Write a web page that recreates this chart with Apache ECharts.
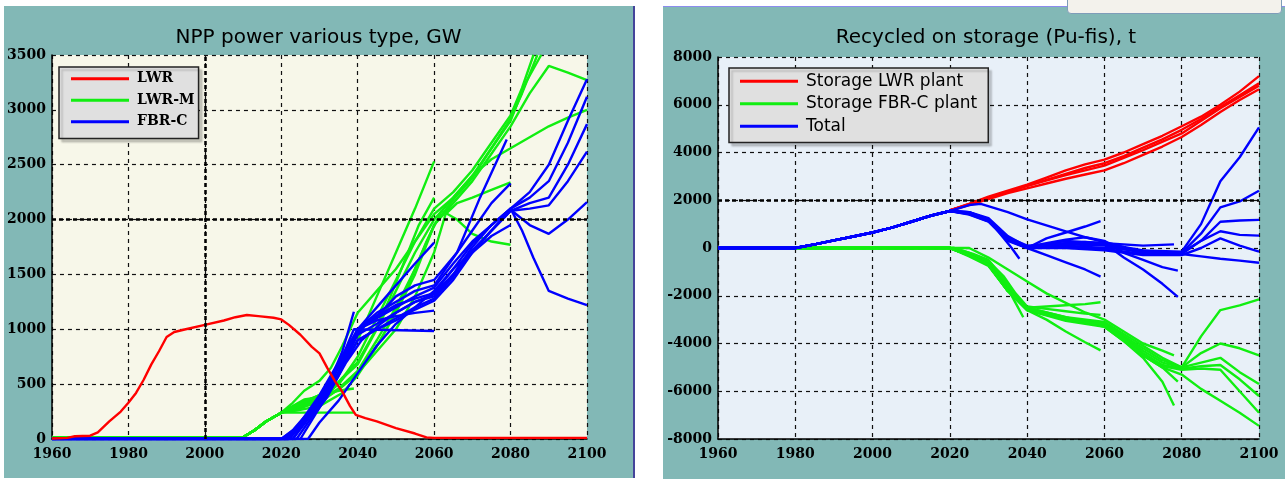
<!DOCTYPE html>
<html>
<head>
<meta charset="utf-8">
<script src="https://cdn.jsdelivr.net/npm/echarts@6.0.0/dist/echarts.min.js"></script>
<style>
  html, body { margin:0; padding:0; background:#ffffff; width:1285px; height:479px; overflow:hidden; position:relative; }
  #left { position:absolute; left:4px; top:6px; width:629px; height:472px; background:#82b8b6; }
  #right { position:absolute; left:663px; top:6px; width:622px; height:473px; background:#82b8b6; }
  #sep { position:absolute; left:633px; top:6px; width:2px; height:472px; background:#44449a; }
  #rtop { position:absolute; left:663px; top:6px; width:622px; height:1px; background:#8c8cee; }
  #btn { position:absolute; left:1067px; top:-6px; width:213px; height:18px; border:1px solid #7f9db9; border-radius:4px; background:#f3f2ec; }
</style>
</head>
<body>
<div id="left"></div>
<div id="sep"></div>
<div id="right"></div>
<div id="rtop"></div>
<div id="btn"></div>
<script>
// ---------------- DATA ----------------
const xTicks = [1960, 1980, 2000, 2020, 2040, 2060, 2080, 2100];
const leftYTicks = [0, 500, 1000, 1500, 2000, 2500, 3000, 3500];
const rightYTicks = [-8000, -6000, -4000, -2000, 0, 2000, 4000, 6000, 8000];

// Left chart: NPP power various type, GW
const lwr = [[1960,5],[1964,10],[1966,25],[1970,30],[1972,60],[1975,160],[1978,250],[1980,330],[1982,420],[1984,540],[1986,680],[1988,800],[1990,930],[1992,975],[1995,1000],[2000,1040],[2005,1080],[2008,1110],[2011,1130],[2014,1120],[2018,1105],[2020,1090],[2022,1040],[2025,950],[2028,840],[2030,780],[2032,650],[2034,530],[2036,430],[2038,300],[2039.5,220],[2042,190],[2045,160],[2050,100],[2055,50],[2058,15],[2060,10],[2100,10]];

const lwrmBase = [[1960,15],[2010,15],[2013,80],[2016,160],[2020,240]];
const lwrm1 = [[2023,330],[2026,440],[2030,530],[2033,650],[2036,850],[2040,1150],[2045,1350],[2050,1550],[2055,1800],[2060,2050],[2065,2200],[2070,2400],[2075,2550],[2080,2650],[2085,2750],[2090,2850],[2095,2930],[2100,3000]];
const lwrm2 = [[2023,300],[2026,360],[2030,380],[2033,430],[2036,560],[2040,700],[2044,950],[2048,1250],[2052,1600],[2056,1950],[2060,2200]];
const lwrm3 = [[2025,330],[2030,400],[2035,600],[2040,900],[2045,1300],[2050,1700],[2055,2100],[2060,2530]];
const lwrm4 = [[2025,300],[2030,360],[2035,500],[2040,750],[2045,1100],[2050,1450],[2055,1800],[2060,2100],[2065,2250],[2070,2450],[2075,2700],[2080,2950],[2083,3200],[2086,3500]];
const lwrm5 = [[2025,320],[2030,390],[2035,520],[2040,680],[2045,1000],[2050,1350],[2055,1700],[2060,2000],[2065,2200],[2070,2400],[2075,2650],[2080,2900],[2084,3250],[2088,3500]];
const lwrm6 = [[2025,280],[2030,350],[2035,450],[2040,600],[2045,850],[2050,1150],[2055,1500],[2060,1950],[2065,2150],[2070,2350],[2075,2600],[2080,2850],[2085,3150],[2090,3400],[2095,3340],[2100,3270]];
const lwrm7 = [[2025,300],[2030,340],[2035,460],[2040,620],[2045,900],[2050,1200],[2055,1550],[2060,1950],[2065,2180],[2070,2380],[2075,2650],[2080,2920],[2083,3150],[2087,3500]];
const lwrm8 = [[2024,260],[2030,300],[2036,420],[2040,580],[2046,900],[2052,1300],[2058,1800],[2062,2080],[2066,2000],[2070,1870],[2075,1800],[2080,1770]];
const lwrm9 = [[2025,290],[2030,330],[2036,480],[2040,600],[2045,800],[2050,1000],[2055,1300],[2060,1700],[2063,2050],[2066,2150],[2070,2200],[2075,2270],[2080,2340]];
const lwrm10 = [[2039,240]];
const lwrm11 = [[2025,300],[2030,380],[2035,500],[2039,680]];
const lwrm12 = [[2025,320],[2030,400],[2035,440],[2039,460]];

const fbrBase = [[1960,0]];
const fbr1 = [[2020,0],[2023,80],[2026,200],[2030,350],[2033,550],[2036,800],[2039,1160]];
const fbr2 = [[2020,0],[2024,100],[2028,250],[2032,450],[2036,750],[2039,1000],[2039.5,985],[2060,985]];
const fbr3 = [[2021,0],[2025,120],[2029,280],[2033,480],[2037,750],[2040,1000],[2045,1080],[2050,1120],[2055,1150],[2060,1170]];
const fbr4 = [[2021,0],[2025,150],[2030,330],[2035,600],[2040,1000],[2045,1100],[2050,1200],[2055,1300],[2060,1380],[2065,1600],[2070,1800],[2075,1950],[2080,2100],[2085,2250],[2090,2500],[2095,2900],[2100,3280]];
const fbr5 = [[2022,0],[2026,150],[2030,320],[2035,580],[2040,980],[2045,1120],[2050,1220],[2055,1280],[2060,1330],[2065,1550],[2070,1780],[2075,1950],[2080,2100],[2085,2200],[2090,2350],[2095,2700],[2100,3120]];
const fbr6 = [[2022,0],[2027,200],[2031,380],[2035,600],[2040,950],[2045,1050],[2050,1150],[2055,1250],[2060,1300],[2065,1500],[2070,1700],[2075,1900],[2080,2080],[2085,2150],[2090,2200],[2095,2500],[2100,2870]];
const fbr7 = [[2023,0],[2027,180],[2032,400],[2036,650],[2040,900],[2045,1000],[2050,1100],[2055,1200],[2060,1280],[2065,1480],[2070,1720],[2075,1900],[2080,2080],[2085,2100],[2090,2130],[2095,2350],[2100,2620]];
const fbr8 = [[2024,0],[2028,200],[2032,380],[2036,650],[2040,900],[2045,1000],[2050,1080],[2055,1180],[2060,1260],[2065,1450],[2070,1700],[2075,1900],[2080,2090],[2085,1950],[2090,1870],[2095,2000],[2100,2160]];
const fbr9 = [[2025,0],[2029,230],[2033,450],[2037,700],[2041,900],[2046,1050],[2050,1150],[2055,1250],[2060,1320],[2065,1500],[2070,1750],[2075,1950],[2080,2100],[2083,1900],[2086,1650],[2090,1350],[2095,1280],[2100,1220]];
const fbr10 = [[2027,0],[2030,150],[2035,350],[2040,600],[2045,850],[2050,1050],[2055,1200],[2060,1350],[2065,1550],[2070,1700],[2075,1850],[2080,1950]];
const fbr11 = [[2023,0],[2027,200],[2031,400],[2035,650],[2040,1000],[2045,1150],[2050,1250],[2055,1350],[2060,1400],[2065,1650],[2070,1900],[2075,2150],[2080,2330]];
const fbr12 = [[2022,0],[2026,180],[2030,380],[2034,600],[2038,850],[2042,1050],[2046,1150],[2050,1300],[2055,1400],[2060,1450],[2066,1700],[2072,2200],[2079,2730]];
const fbr13 = [[2022,0],[2026,200],[2030,400],[2035,700],[2040,1000],[2045,1200],[2050,1400],[2055,1600],[2060,1790]];

// Right chart: Recycled on storage (Pu-fis), t
const stLwr1 = [[2020,1580],[2025,1850],[2030,2150],[2035,2400],[2040,2650],[2045,2950],[2050,3250],[2055,3500],[2060,3700],[2065,4000],[2070,4350],[2075,4700],[2080,5100],[2085,5500],[2090,6000],[2095,6550],[2100,7200]];
const stLwr2 = [[2020,1580],[2025,1820],[2030,2100],[2035,2350],[2040,2600],[2045,2850],[2050,3100],[2055,3350],[2060,3550],[2065,3850],[2070,4200],[2075,4550],[2080,4950],[2085,5400],[2090,5900],[2095,6400],[2100,6900]];
const stLwr3 = [[2020,1580],[2025,1800],[2030,2050],[2035,2300],[2040,2500],[2045,2700],[2050,2900],[2055,3080],[2060,3250],[2065,3550],[2070,3900],[2075,4250],[2080,4650],[2085,5150],[2090,5700],[2095,6200],[2100,6650]];
const stLwr4 = [[2020,1580],[2030,2120],[2040,2600],[2050,3050],[2060,3450],[2070,4100],[2080,4800],[2090,5850],[2100,6800]];

const stFbrBase = [[1960,0],[2020,0]];
const stFbr1 = [[2025,-300],[2030,-650],[2033,-1200],[2035,-1700],[2037,-2300],[2039,-2900]];
const stFbr2 = [[2025,-250],[2030,-600],[2033,-1100],[2036,-1800],[2040,-2500],[2045,-2450],[2050,-2400],[2055,-2350],[2059,-2270]];
const stFbr3 = [[2021,0],[2025,-200],[2030,-550],[2034,-1200],[2037,-1900],[2040,-2450],[2045,-2550],[2050,-2650],[2055,-2750],[2059,-2800]];
const stFbr4 = [[2021,0],[2026,-250],[2030,-500],[2034,-1300],[2038,-2200],[2040,-2600],[2045,-3000],[2050,-3500],[2055,-3950],[2059,-4290]];
const stFbr5 = [[2025,0],[2030,-400],[2035,-900],[2040,-1400],[2045,-1900],[2050,-2300],[2055,-2700],[2060,-3000],[2065,-3500],[2070,-4000],[2075,-4300],[2078,-4500]];
const stFbr6 = [[2025,-300],[2030,-700],[2035,-1700],[2040,-2500],[2045,-2700],[2050,-2900],[2055,-3100],[2060,-3300],[2065,-3900],[2070,-4600],[2075,-5600],[2078,-6600]];
const stFbr7 = [[2025,-350],[2030,-750],[2035,-1800],[2040,-2550],[2045,-2750],[2050,-2950],[2055,-3050],[2060,-3200],[2065,-3700],[2070,-4200],[2075,-4700],[2080,-5000],[2085,-3700],[2090,-2600],[2095,-2400],[2100,-2150]];
const stFbr8 = [[2025,-300],[2030,-700],[2035,-1750],[2040,-2500],[2050,-2900],[2060,-3100],[2065,-3600],[2070,-4100],[2075,-4600],[2080,-5000],[2085,-4400],[2090,-4000],[2095,-4200],[2100,-4500]];
const stFbr9 = [[2025,-320],[2030,-720],[2035,-1750],[2040,-2550],[2050,-2950],[2060,-3150],[2065,-3700],[2070,-4300],[2075,-4800],[2080,-5000],[2085,-4800],[2090,-4600],[2095,-5200],[2100,-5700]];
const stFbr10 = [[2025,-300],[2030,-700],[2035,-1800],[2040,-2600],[2050,-3000],[2060,-3200],[2065,-3750],[2070,-4400],[2075,-4900],[2080,-5050],[2085,-4950],[2090,-4900],[2095,-5500],[2100,-6200]];
const stFbr11 = [[2025,-300],[2030,-700],[2035,-1800],[2040,-2600],[2050,-3000],[2060,-3250],[2065,-3800],[2070,-4500],[2075,-4950],[2080,-5100],[2085,-5050],[2090,-5100],[2095,-6000],[2100,-6900]];
const stFbr12 = [[2025,-300],[2030,-700],[2035,-1800],[2040,-2600],[2050,-3050],[2060,-3300],[2065,-3900],[2070,-4500],[2075,-5000],[2080,-5300],[2085,-5900],[2090,-6400],[2095,-6900],[2100,-7450]];
const stFbr13 = [[2025,-300],[2030,-700],[2035,-1800],[2040,-2550],[2050,-3000],[2060,-3200],[2065,-3800],[2070,-4500],[2075,-5000],[2079,-5600]];

const totalBase = [[1960,0],[1980,0],[1985,150],[1990,320],[1995,480],[2000,650],[2005,850],[2010,1100],[2015,1350],[2020,1550]];
const total1 = [[2025,1800],[2028,1850],[2035,1500],[2040,1200],[2045,950],[2050,700],[2055,450],[2060,250],[2065,50],[2070,-100],[2075,-200],[2080,-250],[2085,-350],[2090,-450],[2095,-530],[2100,-620]];
const total2 = [[2025,1500],[2030,1200],[2033,600],[2036,0],[2038,-450]];
const total3 = [[2025,1450],[2030,1150],[2035,400],[2040,0],[2045,400],[2050,650],[2055,900],[2059,1130]];
const total4 = [[2025,1500],[2030,1250],[2035,500],[2040,50],[2045,200],[2050,350],[2055,450],[2060,300],[2065,-200],[2070,-500],[2075,-800],[2079,-950]];
const total5 = [[2025,1400],[2030,1100],[2035,300],[2040,0],[2045,-300],[2050,-600],[2055,-900],[2059,-1200]];
const total6 = [[2025,1450],[2030,1200],[2035,450],[2040,100],[2045,150],[2050,200],[2055,250],[2060,200],[2065,-400],[2070,-900],[2075,-1500],[2079,-2050]];
const total7 = [[2025,1500],[2030,1150],[2035,350],[2040,0],[2050,100],[2060,0],[2070,-100],[2080,-150],[2085,1000],[2090,2800],[2095,3800],[2100,5050]];
const total8 = [[2025,1480],[2030,1180],[2035,420],[2040,50],[2050,150],[2060,100],[2070,-200],[2080,-200],[2085,600],[2090,1700],[2095,1950],[2100,2400]];
const total9 = [[2025,1420],[2030,1120],[2035,330],[2040,0],[2050,50],[2060,-50],[2070,-250],[2080,-250],[2085,300],[2090,1100],[2095,1150],[2100,1180]];
const total10 = [[2025,1460],[2030,1160],[2035,380],[2040,20],[2050,200],[2060,150],[2070,-150],[2080,-200],[2085,300],[2090,700],[2095,550],[2100,520]];
const total11 = [[2025,1440],[2030,1140],[2035,360],[2040,0],[2050,0],[2060,-100],[2070,-300],[2080,-300],[2085,0],[2090,400],[2095,100],[2100,-150]];
const total12 = [[2025,1470],[2030,1170],[2035,400],[2040,0],[2050,300],[2060,200],[2070,100],[2078,150]];

// ---------------- RENDER ----------------
const RED = '#ff0000', GREEN = '#11ee11', BLUE = '#0000ff';
function ser(name, color, base, tail) {
  return { type:'line', name:name, data: base.concat(tail), symbol:'none', showSymbol:false,
    lineStyle:{ color:color, width:2.4 }, itemStyle:{ color:color }, silent:true, animation:false };
}
function thickGrid(xs, ys) {
  const md = [];
  xs.forEach(v => md.push({ xAxis: v }));
  ys.forEach(v => md.push({ yAxis: v }));
  return { type:'line', data:[], silent:true, animation:false, z:1,
    markLine:{ symbol:'none', silent:true, animation:false, label:{show:false},
      lineStyle:{ color:'#000', type:[4,3], width:2.5 }, data: md } };
}
const axisFont = { fontFamily:'DejaVu Serif', fontWeight:'bold', fontSize:14, color:'#000' };
function xAxisCfg() {
  return { type:'value', min:xTicks[0], max:xTicks[xTicks.length-1], interval:20,
    axisLine:{ show:true, onZero:false, lineStyle:{ color:'#000', width:1.5 } },
    axisTick:{ show:false },
    axisLabel:Object.assign({ margin:8, formatter: v => String(v) }, axisFont),
    splitLine:{ show:true, lineStyle:{ color:'#111', type:[4,4], width:1.2 } } };
}
function yAxisCfg(ticks) {
  return { type:'value', min:ticks[0], max:ticks[ticks.length-1], interval:ticks[1]-ticks[0],
    axisLine:{ show:true, onZero:false, lineStyle:{ color:'#000', width:1.5 } },
    axisTick:{ show:false },
    axisLabel:Object.assign({ margin:6, formatter: v => String(v) }, axisFont),
    splitLine:{ show:true, lineStyle:{ color:'#111', type:[4,4], width:1.2 } } };
}

// Left
const leftChart = echarts.init(document.getElementById('left'), null, { renderer:'canvas' });
const leftSeries = [thickGrid([2000],[2000])];
[lwrm1,lwrm2,lwrm3,lwrm4,lwrm5,lwrm6,lwrm7,lwrm8,lwrm9,lwrm10,lwrm11,lwrm12].forEach(d => leftSeries.push(ser('LWR-M', GREEN, lwrmBase, d)));
[fbr1,fbr2,fbr3,fbr4,fbr5,fbr6,fbr7,fbr8,fbr9,fbr10,fbr11,fbr12,fbr13].forEach(d => leftSeries.push(ser('FBR-C', BLUE, fbrBase, d)));
leftSeries.push(ser('LWR', RED, [], lwr));
leftChart.setOption({
  animation:false,
  title:{ text:'NPP power various type, GW', left:'center', top:22, padding:0,
    textStyle:{ fontFamily:'DejaVu Sans', fontSize:20, fontWeight:'normal', color:'#000' } },
  grid:{ left:45, top:49, width:538, height:384, show:true, backgroundColor:'#f7f7e9', borderWidth:0 },
  xAxis:xAxisCfg(), yAxis:yAxisCfg(leftYTicks),
  legend:{ data:['LWR','LWR-M','FBR-C'], orient:'vertical', left:55, top:61, icon:'rect',
    itemWidth:58, itemHeight:3, itemGap:0, padding:[1,4,6,12],
    backgroundColor:'#e0e0e0', borderColor:'#222', borderWidth:1.5,
    shadowColor:'rgba(0,0,0,0.18)', shadowBlur:2, shadowOffsetX:3, shadowOffsetY:3,
    selectedMode:false,
    textStyle:{ fontFamily:'DejaVu Serif', fontWeight:'bold', fontSize:14, color:'#000', lineHeight:21.5, padding:[0,0,0,3] } },
  series:leftSeries
});

// Right
const rightChart = echarts.init(document.getElementById('right'), null, { renderer:'canvas' });
const rightSeries = [thickGrid([],[2000])];
[stLwr1,stLwr2,stLwr3,stLwr4].forEach(d => rightSeries.push(ser('Storage LWR plant', RED, [], d)));
[stFbr1,stFbr2,stFbr3,stFbr4,stFbr5,stFbr6,stFbr7,stFbr8,stFbr9,stFbr10,stFbr11,stFbr12,stFbr13].forEach(d => rightSeries.push(ser('Storage FBR-C plant', GREEN, stFbrBase, d)));
[total1,total2,total3,total4,total5,total6,total7,total8,total9,total10,total11,total12].forEach(d => rightSeries.push(ser('Total', BLUE, totalBase, d)));
rightChart.setOption({
  animation:false,
  title:{ text:'Recycled on storage (Pu-fis), t', left:323, textAlign:'center', top:22, padding:0,
    textStyle:{ fontFamily:'DejaVu Sans', fontSize:20, fontWeight:'normal', color:'#000' } },
  grid:{ left:55, top:51, width:541, height:382, show:true, backgroundColor:'#e8f0f8', borderWidth:0 },
  xAxis:xAxisCfg(), yAxis:yAxisCfg(rightYTicks),
  legend:{ data:['Storage LWR plant','Storage FBR-C plant','Total'], orient:'vertical', left:66, top:62, icon:'rect',
    itemWidth:58, itemHeight:3, itemGap:0, padding:[2,11,5,11],
    backgroundColor:'#e0e0e0', borderColor:'#222', borderWidth:1.5,
    shadowColor:'rgba(0,0,0,0.18)', shadowBlur:2, shadowOffsetX:3, shadowOffsetY:3,
    selectedMode:false,
    textStyle:{ fontFamily:'DejaVu Sans', fontSize:17, color:'#000', lineHeight:22.5, padding:[0,0,0,3] } },
  series:rightSeries
});
</script>
</body>
</html>
